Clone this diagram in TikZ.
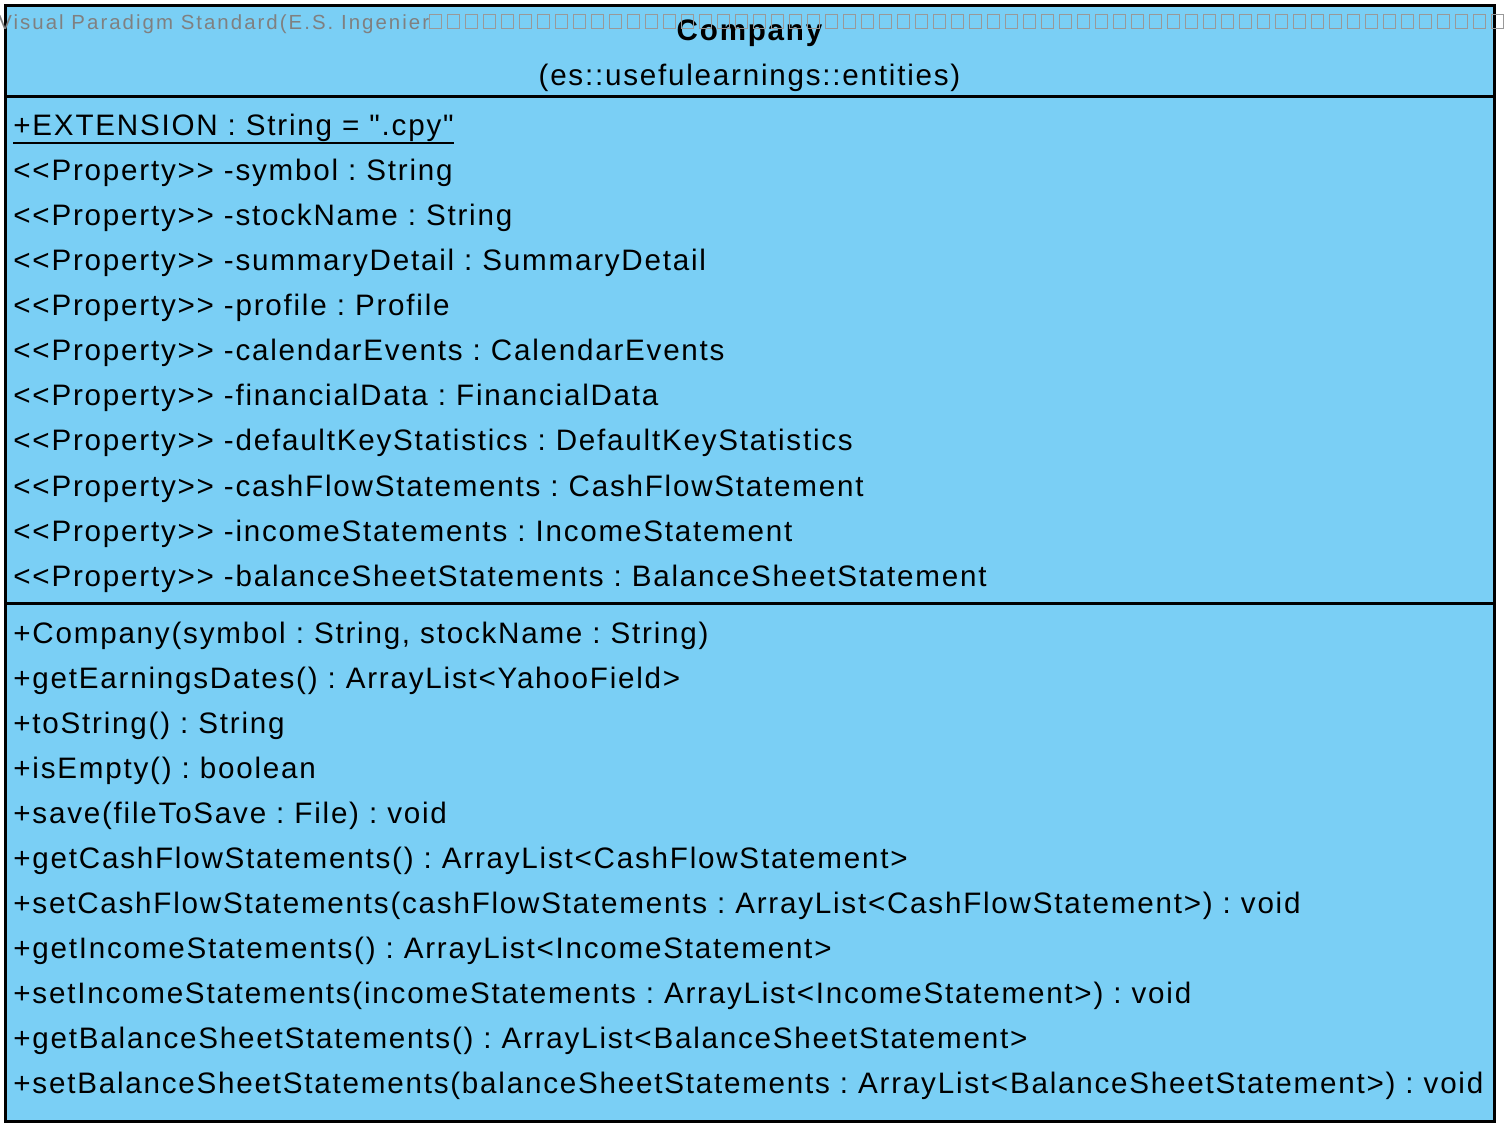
\documentclass[tikz,border=0pt]{standalone}
\usepackage{fontspec}
\newfontfamily\umlfont{Liberation Sans}[Ligatures=TeXOff, LetterSpace=6]
\newfontfamily\markfont{Liberation Sans}[Ligatures=TeXOff, LetterSpace=10]
\definecolor{classfill}{RGB}{122,207,245}
\definecolor{markgray}{RGB}{128,128,128}
\frenchspacing
\begin{document}
\begin{tikzpicture}[x=0.5pt, y=-0.5pt,
	member/.style={anchor=base west, inner sep=0pt, font=\umlfont\fontsize{14.8}{17}\selectfont},
	classname/.style={anchor=base, inner sep=0pt, font=\umlfont\fontsize{14.8}{17}\selectfont},
	watermark/.style={anchor=base west, inner sep=0pt, text=markgray, font=\markfont\fontsize{10.2}{12}\selectfont},
	tofu/.style={draw=markgray!80, line width=0.5pt}]
	%\draw[help lines] (0,0) grid (1506,1134);
	\useasboundingbox (0,0) rectangle (1506,1134);
	
	% class box and compartments
	\draw [fill=classfill, line width=1.5pt] (5,6) rectangle (1494,1121);
	\draw [line width=1.5pt] (5,97) -- (1494,97);
	\draw [line width=1.5pt] (5,603) -- (1494,603);
	
	\node [classname] (name) at (749.5,41) {\bfseries Company};
	\node [classname] (pkg) at (749.5,86) {(es::usefulearnings::entities)};
	
	% attributes
	\node [member] (ext) at (13,136) {+EXTENSION : String = ".cpy"};
	\draw [line width=1pt] ([yshift=-3.5pt]ext.base west) -- ([yshift=-3.5pt]ext.base east);
	\node [member] (a1) at (13,181) {<{}<Property>{}> -symbol : String};
	\node [member] (a2) at (13,226) {<{}<Property>{}> -stockName : String};
	\node [member] (a3) at (13,271) {<{}<Property>{}> -summaryDetail : SummaryDetail};
	\node [member] (a4) at (13,316) {<{}<Property>{}> -profile : Profile};
	\node [member] (a5) at (13,361) {<{}<Property>{}> -calendarEvents : CalendarEvents};
	\node [member] (a6) at (13,406) {<{}<Property>{}> -financialData : FinancialData};
	\node [member] (a7) at (13,451) {<{}<Property>{}> -defaultKeyStatistics : DefaultKeyStatistics};
	\node [member] (a8) at (13,496) {<{}<Property>{}> -cashFlowStatements : CashFlowStatement};
	\node [member] (a9) at (13,541) {<{}<Property>{}> -incomeStatements : IncomeStatement};
	\node [member] (a10) at (13,586) {<{}<Property>{}> -balanceSheetStatements : BalanceSheetStatement};
	
	% operations
	\node [member] (o1) at (13,643) {+Company(symbol : String, stockName : String)};
	\node [member] (o2) at (13,688) {+getEarningsDates() : ArrayList<YahooField>};
	\node [member] (o3) at (13,733) {+toString() : String};
	\node [member] (o4) at (13,778) {+isEmpty() : boolean};
	\node [member] (o5) at (13,823) {+save(fileToSave : File) : void};
	\node [member] (o6) at (13,868) {+getCashFlowStatements() : ArrayList<CashFlowStatement>};
	\node [member] (o7) at (13,913) {+setCashFlowStatements(cashFlowStatements : ArrayList<CashFlowStatement>) : void};
	\node [member] (o8) at (13,958) {+getIncomeStatements() : ArrayList<IncomeStatement>};
	\node [member] (o9) at (13,1003) {+setIncomeStatements(incomeStatements : ArrayList<IncomeStatement>) : void};
	\node [member] (o10) at (13,1048) {+getBalanceSheetStatements() : ArrayList<BalanceSheetStatement>};
	\node [member] (o11) at (13,1093) {+setBalanceSheetStatements(balanceSheetStatements : ArrayList<BalanceSheetStatement>) : void};
	
	% watermark
	\node [watermark] (mark) at (-2,30) {Visual Paradigm Standard(E.S. Ingenier};
	\foreach \i in {0,...,59}
		\draw [tofu] ({429+18*\i},15) rectangle ++(12,14);
	
\end{tikzpicture}
\end{document}
